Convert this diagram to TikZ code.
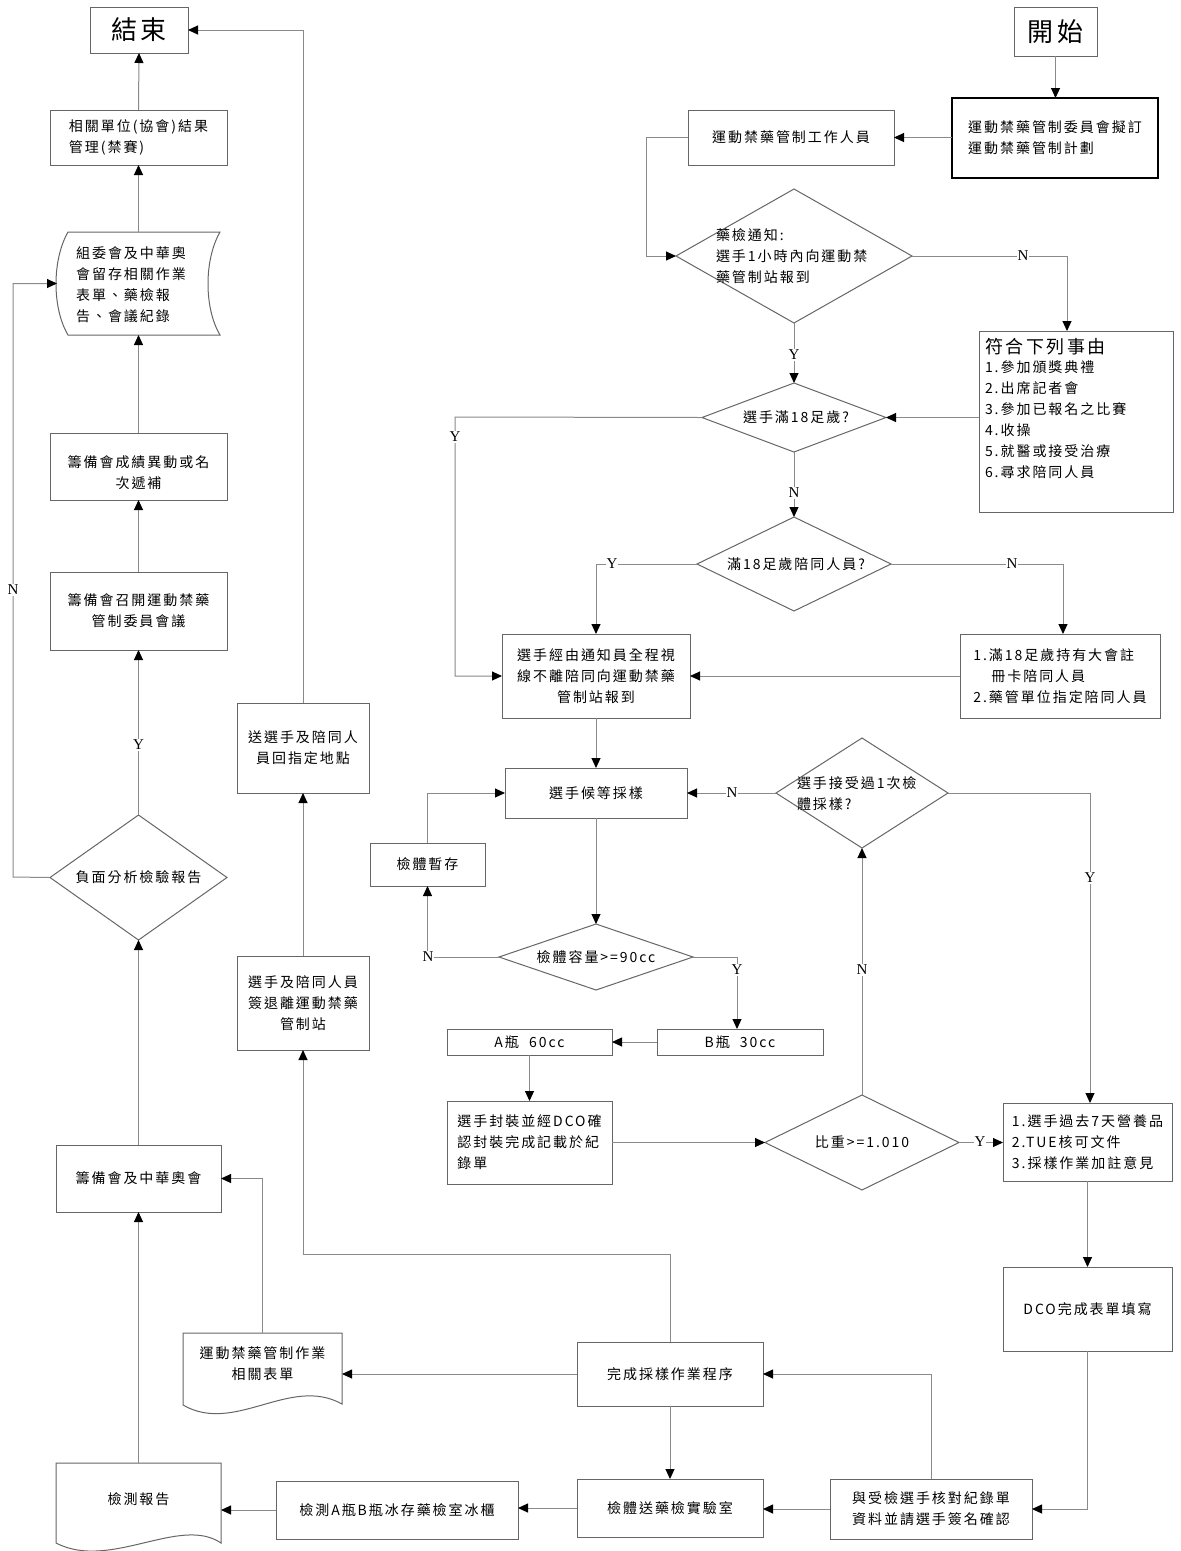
\documentclass[tikz,border=0pt]{standalone}
\usepackage{fontspec}
\setmainfont{Liberation Serif}
\newfontfamily\cjk[LetterSpace=14]{Noto Sans CJK TC}
\usetikzlibrary{arrows.meta,shapes.geometric,calc}
\definecolor{linegray}{HTML}{8A8A8A}
\definecolor{boxgray}{HTML}{666666}
\newcommand\mybox[7][]{\node[box,minimum width={(#4-#2)*1pt},minimum height={(#5-#3)*1pt},#1] (#6) at ({(#2+#4)/2},{(#3+#5)/2}) {#7};}
\newcommand\mydia[5]{\node[dia,minimum width={(#3-#1)*1pt},minimum height={(#4-#2)*1pt}] (#5) at ({(#1+#3)/2},{(#2+#4)/2}) {};}
\begin{document}
\begin{tikzpicture}[x=1pt,y=-1pt,
  every node/.style={inner sep=0pt,outer sep=0pt},
  box/.style={draw=boxgray,line width=1pt,fill=white,font=\cjk\fontsize{14}{21}\selectfont,align=center},
  dia/.style={draw=boxgray,line width=1pt,diamond,fill=white},
  txt/.style={font=\cjk\fontsize{14}{21}\selectfont,align=left},
  ctxt/.style={font=\cjk\fontsize{14}{21}\selectfont,align=center},
  doc/.style={draw=boxgray,line width=1pt,fill=white},
  conn/.style={draw=linegray,line width=1pt},
  arr/.style={conn,-{Triangle[length=10pt,width=9pt,black]}},
  lbl/.style={fill=white,font=\fontsize{15}{15}\selectfont,inner sep=1pt},
  big/.style={font=\cjk\fontsize{26}{30}\selectfont}
]
\path[use as bounding box,fill=white] (0,0) rectangle (1181,1551);

% ---------- right upper part ----------
\mybox[big]{90}{7}{188}{53}{end}{結束}
\mybox[big]{1014}{7}{1097}{56}{start}{開始}
\mybox[line width=2pt,draw=black,align=left]{952}{98}{1158}{178}{plan}{運動禁藥管制委員會擬訂\\運動禁藥管制計劃}
\mybox{688}{110}{894}{165}{staff}{運動禁藥管制工作人員}
\mydia{676}{189}{912}{323}{d1}
\node[txt,anchor=west] (t1) at (716,256) {藥檢通知:\\選手1小時內向運動禁\\藥管制站報到};
\mybox{979}{331}{1173}{512}{reasons}{}
\node[txt,anchor=north west] (treasons) at (985,338) {{\fontsize{18}{22}\selectfont 符合下列事由}\\[-2pt]
  \fontsize{14}{23.5}\selectfont 1.參加頒獎典禮\\2.出席記者會\\3.參加已報名之比賽\\4.收操\\5.就醫或接受治療\\6.尋求陪同人員};
\mydia{702}{383}{886}{452}{d2}
\node[ctxt] (t2) at (796,417) {選手滿18足歲?};
\mydia{697}{517}{891}{611}{d3}
\node[ctxt] (t3) at (796,564) {滿18足歲陪同人員?};
\mybox{502}{634}{690}{718}{escort}{選手經由通知員全程視\\線不離陪同向運動禁藥\\管制站報到}
\mybox[align=left]{960}{634}{1160}{718}{altesc}{1.滿18足歲持有大會註\\\hspace*{18pt}冊卡陪同人員\\2.藥管單位指定陪同人員}
\mybox{505}{768}{687}{818}{wait}{選手候等採樣}
\mydia{776}{738}{948}{848}{d4}
\node[txt,anchor=west] (t4) at (797,794) {選手接受過1次檢\\體採樣?};
\mybox{370}{843}{485}{886}{hold}{檢體暫存}
\mydia{499}{924}{693}{990}{d5}
\node[ctxt] (t5) at (596,957) {檢體容量>=90cc};
\mybox{657}{1029}{823}{1055}{bbot}{B瓶\ \ 30cc}
\mybox{447}{1029}{612}{1055}{abot}{A瓶\ \ 60cc}
\mybox[align=left]{447}{1101}{612}{1184}{seal}{選手封裝並經DCO確\\認封裝完成記載於紀\\錄單}
\mydia{765}{1095}{959}{1190}{d6}
\node[ctxt] (t6) at (862,1142) {比重>=1.010};
\mybox[align=left]{1003}{1103}{1172}{1181}{supp}{1.選手過去7天營養品\\2.TUE核可文件\\3.採樣作業加註意見}
\mybox{1003}{1267}{1172}{1351}{dco}{DCO完成表單填寫}
\mybox{830}{1479}{1032}{1539}{verify}{與受檢選手核對紀錄單\\資料並請選手簽名確認}
\mybox{577}{1342}{763}{1406}{done}{完成採樣作業程序}
\mybox{577}{1479}{763}{1537}{lab}{檢體送藥檢實驗室}
\mybox{276}{1481}{518}{1539}{store}{檢測A瓶B瓶冰存藥檢室冰櫃}

% ---------- left column ----------
\mybox[align=left]{50}{110}{227}{165}{result}{相關單位(協會)結果\\管理(禁賽)}
\draw[doc] (68,232) -- (220,232) .. controls (204,260) and (204,308) .. (220,335) -- (68,335) .. controls (52,308) and (52,260) .. (68,232) -- cycle;
\node[minimum width=163pt,minimum height=103pt] (archive) at (138.5,283.5) {};
\node[txt] (tarch) at (131,285) {組委會及中華奧\\會留存相關作業\\表單、藥檢報\\告、會議紀錄};
\mybox{50}{433}{227}{500}{rank}{}
\node[ctxt] (trank) at (138.5,473) {籌備會成績異動或名\\次遞補};
\mybox{50}{572}{227}{650}{meet}{籌備會召開運動禁藥\\管制委員會議}
\mydia{50}{815}{227}{940}{d7}
\node[ctxt] (t7) at (138.5,877) {負面分析檢驗報告};
\mybox{56}{1145}{221}{1212}{nacc}{籌備會及中華奧會}
\mybox{237}{956}{369}{1050}{signout}{選手及陪同人員\\簽退離運動禁藥\\管制站}
\mybox{237}{703}{369}{793}{sendback}{送選手及陪同人\\員回指定地點}
% documents with wavy bottoms
\draw[doc] (183,1333) -- (342,1333) -- (342,1404) .. controls (290,1375) and (235,1435) .. (183,1405) -- cycle;
\node[minimum width=159pt,minimum height=71pt] (forms) at (262.5,1368.5) {};
\node[ctxt] (tforms) at (262.5,1364) {運動禁藥管制作業\\相關表單};
\draw[doc] (56,1463) -- (221,1463) -- (221,1543) .. controls (180,1515) and (110,1571) .. (56,1543) -- cycle;
\node[minimum width=165pt,minimum height=80pt] (report) at (138.5,1503) {};
\node[ctxt] (treport) at (138.5,1499) {檢測報告};

% ---------- connectors ----------
\draw[arr] (start.south) -- (start.south |- plan.north);
\draw[arr] (plan.west |- staff.east) -- (staff.east);
\draw[arr] (staff.west) -- ++(-42,0) |- (d1.west);
\coordinate (rn) at (1067,331);
\draw[arr] (d1.east) -| (rn);
\draw[arr] (d1.south) -- (d2.north);
\draw[arr] (reasons.west |- d2.east) -- (d2.east);
\coordinate (yl) at (455,417);
\draw[arr] (d2.west) -- (yl) |- (escort.west);
\draw[arr] (d2.south) -- (d3.north);
\draw[arr] (d3.west) -| (escort.north);
\coordinate (an) at (1063,634);
\draw[arr] (d3.east) -| (an);
\draw[arr] (altesc.west) -- (escort.east);
\draw[arr] (escort.south) -- (wait.north);
\draw[arr] (d4.west) -- (wait.east);
\coordinate (sn) at (1090,1103);
\draw[arr] (d4.east) -| (sn);
\draw[arr] (wait.south) -- (d5.north);
\draw[arr] (d5.west) -| (hold.south);
\draw[arr] (hold.north) |- (wait.west);
\coordinate (bn) at (737,1029);
\draw[arr] (d5.east) -| (bn);
\draw[arr] (bbot.west) -- (abot.east);
\draw[arr] (abot.south) -- (seal.north);
\draw[arr] (seal.east |- d6.west) -- (d6.west);
\draw[arr] (d6.east) -- (supp.west |- d6.east);
\draw[arr] (d6.north) -- (d4.south);
\draw[arr] (supp.south) -- (dco.north);
\draw[arr] (dco.south) |- (verify.east);
\draw[arr] (verify.north) |- (done.east);
\draw[arr] (verify.west) -- (verify.west -| lab.east);
\draw[arr] (done.south) -- (lab.north);
\draw[arr] (lab.west) -- (lab.west -| store.east);
\draw[arr] (store.west) -- (store.west -| report.east);
\draw[arr] (done.west) -- (done.west -| forms.east);
\coordinate (k1) at (670,1254);
\draw[arr] (done.north) -- (k1) -| (signout.south);
\draw[arr] (signout.north) -- (sendback.south);
\draw[arr] (sendback.north) |- (end.east);
\draw[arr] (forms.north) |- (nacc.east);
\draw[arr] (report.north) -- (nacc.south);
\draw[arr] (nacc.north) -- (d7.south);
\draw[arr] (d7.north) -- (meet.south);
\coordinate (nl) at (13,877);
\draw[arr] (d7.west) -- (nl) |- (archive.west);
\draw[arr] (meet.north) -- (rank.south);
\draw[arr] (rank.north) -- (archive.south);
\draw[arr] (archive.north) -- (result.south);
\draw[arr] (result.north) -- (end.south);

% ---------- labels ----------
\node[lbl] (l1) at (1023,256) {N};
\node[lbl] (l2) at (794,355) {Y};
\node[lbl] (l3) at (455,437) {Y};
\node[lbl] (l4) at (794,493) {N};
\node[lbl] (l5) at (612,564) {Y};
\node[lbl] (l6) at (1012,564) {N};
\node[lbl] (l7) at (732,793) {N};
\node[lbl] (l8) at (1090,878) {Y};
\node[lbl] (l9) at (428,957) {N};
\node[lbl] (l10) at (737,970) {Y};
\node[lbl] (l11) at (862,970) {N};
\node[lbl] (l12) at (980,1142) {Y};
\node[lbl] (l13) at (138.5,745) {Y};
\node[lbl] (l14) at (13,590) {N};
\end{tikzpicture}
\end{document}
